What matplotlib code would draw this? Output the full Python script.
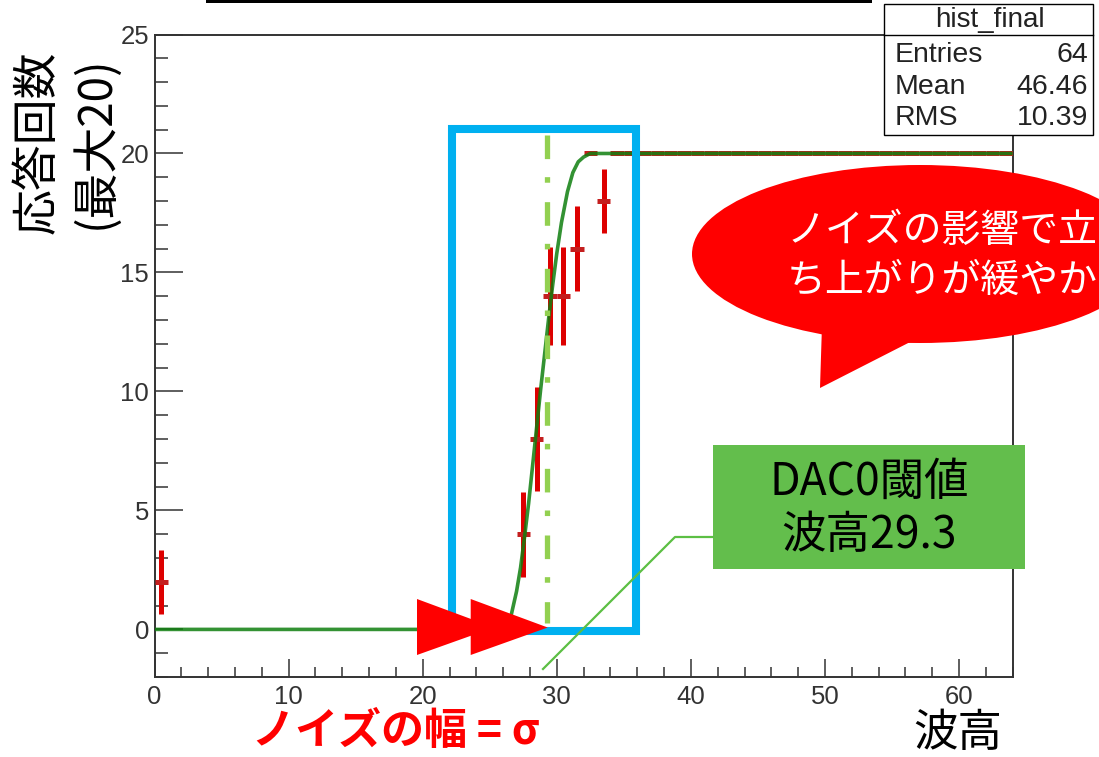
import numpy as np
import matplotlib
matplotlib.use("Agg")
import matplotlib.pyplot as plt
from matplotlib.patches import Rectangle, Ellipse, Polygon
from matplotlib.ticker import MultipleLocator

plt.rcParams["font.family"] = ["Liberation Sans", "Noto Sans CJK JP", "DejaVu Sans"]
plt.rcParams["lines.scale_dashes"] = False
CJK = ["Noto Sans CJK JP", "DejaVu Sans"]

# hist_final: 64 bins of width 1, responses per bin out of 20 pulses
bin_centers = np.arange(64) + 0.5
counts = [2] + [0] * 26 + [4, 8, 14, 14, 16, 20, 18] + [20] * 30
count_errs = [1.34] + [0] * 26 + [1.79, 2.19, 2.05, 2.05, 1.79, 0, 1.34] + [0] * 30

# error-function fit, sampled
fit_x = [0.0, 26.3, 26.6, 27.0, 27.3, 27.6, 27.9, 28.2, 28.5, 28.8, 29.1, 29.4,
         29.7, 30.0, 30.35, 30.8, 31.2, 31.6, 32.0, 32.5, 64.0]
fit_y = [0.0, 0.0, 0.6, 1.6, 2.6, 3.9, 5.3, 6.9, 8.5, 10.1, 11.6, 13.1,
         14.5, 15.8, 17.1, 18.4, 19.2, 19.65, 19.85, 20.0, 20.0]

threshold = 29.3
stat_title = "hist_final"
stat_labels = ["Entries", "Mean", "RMS"]
stat_values = ["64", "46.46", "10.39"]

W, H = 1099, 757
fig = plt.figure(figsize=(W / 100, H / 100), dpi=100)
fig.patch.set_facecolor("white")

# ---- main histogram frame ----
left, right, top, bottom = 154.5, 1012.7, 34.5, 677
ax = fig.add_axes([left / W, 1 - bottom / H, (right - left) / W, (bottom - top) / H])
ax.set_xlim(0, 64)
ax.set_ylim(-2.0, 25)

c = np.array(counts, dtype=float)
e = np.array(count_errs)
filled = c > 0
ax.errorbar(bin_centers[filled], c[filled], yerr=e[filled], fmt="none",
            ecolor="#DD0000", elinewidth=3.6, capsize=0, zorder=3)
ax.errorbar(bin_centers[filled], c[filled], xerr=0.5, fmt="none",
            ecolor="#C41E1E", elinewidth=3.6, capsize=0, zorder=3)
ax.plot(fit_x, fit_y, color="#0F7F0F", lw=2.6, alpha=0.85, zorder=4,
        solid_capstyle="butt")

# threshold marker
ax.plot([threshold, threshold], [20.77, 0.29], color="#92D050", lw=3.8,
        dashes=(17, 13, 4, 14), dash_capstyle="butt", zorder=5)

ax.xaxis.set_major_locator(MultipleLocator(10))
ax.xaxis.set_minor_locator(MultipleLocator(2))
ax.yaxis.set_major_locator(MultipleLocator(5))
ax.yaxis.set_minor_locator(MultipleLocator(1))
ax.set_xticks(range(0, 61, 10))
ax.tick_params(which="both", direction="in", top=False, right=False,
               color="#333333", width=1.1, labelsize=18.5, labelcolor="#333333")
ax.tick_params(axis="x", which="major", length=13, pad=6)
ax.tick_params(axis="x", which="minor", length=7)
ax.tick_params(axis="y", which="major", length=20, pad=4)
ax.tick_params(axis="y", which="minor", length=9.5)
for s in ax.spines.values():
    s.set_color("#333333")
    s.set_linewidth(1.4)

# ---- annotation layer in pixel coordinates ----
ov = fig.add_axes([0, 0, 1, 1])
ov.set_xlim(0, W)
ov.set_ylim(H, 0)
ov.axis("off")
ov.patch.set_alpha(0)

# black bar at the top edge
ov.add_patch(Rectangle((206, 0), 666, 3, color="black", lw=0))

# stat box
ov.add_patch(Rectangle((884, 4), 209, 131, facecolor="white", edgecolor="black", lw=1.0))
ov.plot([884, 1093], [35, 35], color="black", lw=1.0)
ov.text(990, 20, stat_title, ha="center", va="center", fontsize=20, color="#222222")
for i, (lab, val) in enumerate(zip(stat_labels, stat_values)):
    y = 55 + i * 31.5
    ov.text(895, y, lab, ha="left", va="center", fontsize=20.5, color="#222222")
    ov.text(1088, y, val, ha="right", va="center", fontsize=20.5, color="#222222")

# blue box around the rising edge
ov.add_patch(Rectangle((452, 129), 184, 502, fill=False, edgecolor="#00B0F0", lw=5.8))

# double red arrow for the noise width
for x0 in (417, 470.7):
    ov.add_patch(Polygon([(x0, 599), (x0, 655), (x0 + 77, 627.5)], closed=True,
                         color="#FF0000", lw=0))

# threshold callout
ov.plot([543, 675, 713], [669, 537, 537], color="#5CBF44", lw=1.6)
ov.add_patch(Rectangle((713, 445), 312, 124, color="#63BE4C", lw=0))
ov.text(869, 508, "DAC0閾値\n波高29.3", ha="center", va="center", fontsize=32,
        linespacing=1.2, family=CJK, color="black")

# speech bubble
ov.add_patch(Ellipse((920, 254), 456, 178, color="#FF0000", lw=0))
ov.add_patch(Polygon([(822, 325), (820, 388), (918, 338)], closed=True,
                     color="#FF0000", lw=0))
ov.text(787, 256, "ノイズの影響で立\nち上がりが緩やか", ha="left", va="center",
        fontsize=28, linespacing=1.3, family=CJK, color="white")

# axis titles
ov.text(66, 142, "応答回数\n(最大20)", rotation=90, ha="center", va="center",
        fontsize=33, linespacing=1.25, family=CJK, color="black")
ov.text(958, 733, "波高", ha="center", va="center", fontsize=32, family=CJK,
        color="black")
ov.text(396, 731, "ノイズの幅 = σ", ha="center", va="center", fontsize=31,
        fontweight="bold", family=CJK, color="#FF0000")

fig.savefig("out.png", dpi=100)
